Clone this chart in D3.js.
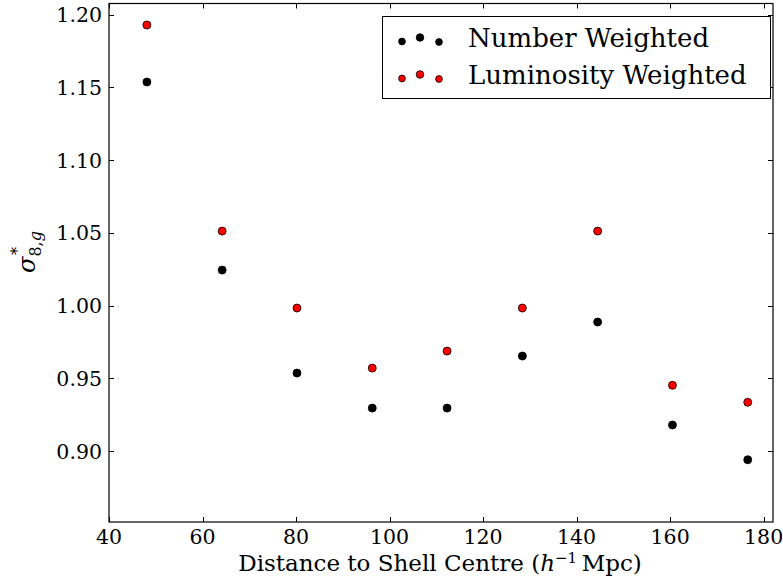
<!DOCTYPE html>
<html lang="en">
<head>
    <meta charset="UTF-8">
    <title>Sigma 8 vs distance</title>
    <script src="https://d3js.org/d3.v7.min.js"></script>
    <style>
        body { margin: 0; background: white; }
        text { font-family: "DejaVu Serif", serif; fill: #000; }
    </style>
</head>
<body>
    <div id="chart"></div>
    <script>
        // data
        const distances = [48.1, 64.2, 80.2, 96.3, 112.3, 128.4, 144.5, 160.5, 176.6];
        const numberWeighted = [1.1537, 1.0244, 0.9536, 0.9295, 0.9295, 0.9653, 0.9887, 0.9179, 0.8940];
        const luminosityWeighted = [1.1929, 1.0512, 0.9983, 0.9570, 0.9687, 0.9983, 1.0512, 0.9452, 0.9335];
        const xTicks = [40, 60, 80, 100, 120, 140, 160, 180];
        const yTicks = [0.90, 0.95, 1.00, 1.05, 1.10, 1.15, 1.20];
        const seriesNames = ["Number Weighted", "Luminosity Weighted"];

        const width = 783, height = 579;
        const mLeft = 109, mRight = 773, mTop = 3.5, mBottom = 522;

        const svg = d3.select("#chart").append("svg")
            .attr("width", width)
            .attr("height", height);

        const x = d3.scaleLinear().domain([40, 182]).range([mLeft, mRight]);
        const y = d3.scaleLinear().domain([0.8512, 1.2077]).range([mBottom, mTop]);

        // tick marks pointing inward on all four sides
        const tickLen = 5;
        const ticks = svg.append("g").attr("stroke", "#000").attr("stroke-width", 1);
        xTicks.forEach(t => {
            const px = Math.round(x(t)) + 0.5;
            ticks.append("line").attr("x1", px).attr("x2", px).attr("y1", mBottom).attr("y2", mBottom - tickLen);
            ticks.append("line").attr("x1", px).attr("x2", px).attr("y1", mTop).attr("y2", mTop + tickLen);
        });
        yTicks.forEach(t => {
            const py = Math.round(y(t)) + 0.5;
            ticks.append("line").attr("x1", mLeft).attr("x2", mLeft + tickLen).attr("y1", py).attr("y2", py);
            ticks.append("line").attr("x1", mRight).attr("x2", mRight - tickLen).attr("y1", py).attr("y2", py);
        });

        // frame
        svg.append("rect")
            .attr("x", mLeft).attr("y", mTop)
            .attr("width", mRight - mLeft).attr("height", mBottom - mTop)
            .attr("fill", "none").attr("stroke", "#000").attr("stroke-width", 1.2);

        // tick labels
        svg.append("g").selectAll("text").data(xTicks).join("text")
            .attr("x", d => x(d)).attr("y", mBottom + 21.5)
            .attr("text-anchor", "middle").attr("font-size", 20.5)
            .text(d => d);
        svg.append("g").selectAll("text").data(yTicks).join("text")
            .attr("x", mLeft - 7).attr("y", d => y(d) + 7.5)
            .attr("text-anchor", "end").attr("font-size", 20.5)
            .text(d => d.toFixed(2));

        // axis labels
        const xl = svg.append("text")
            .attr("x", 440).attr("y", 571)
            .attr("text-anchor", "middle").attr("font-size", 23);
        xl.append("tspan").text("Distance to Shell Centre (");
        xl.append("tspan").attr("font-style", "italic").text("h");
        xl.append("tspan").attr("dy", -8).attr("font-size", 15).text("\u22121");
        xl.append("tspan").attr("dy", 8).text("\u2009Mpc)");

        const yl = svg.append("text")
            .attr("transform", "translate(35,252) rotate(-90)")
            .attr("text-anchor", "middle").attr("font-size", 24);
        yl.append("tspan").attr("font-style", "italic").text("\u03c3");
        yl.append("tspan").attr("dy", 6).attr("font-size", 16).text("8,");
        yl.append("tspan").attr("font-size", 16).attr("font-style", "italic").text("g");
        yl.append("tspan").attr("dx", -24).attr("dy", -18).attr("font-size", 16).text("*");

        // points
        const pts = svg.append("g");
        pts.selectAll("circle.num").data(distances).join("circle")
            .attr("class", "num")
            .attr("cx", d => x(d)).attr("cy", (d, i) => y(numberWeighted[i]))
            .attr("r", 4).attr("fill", "#000").attr("stroke", "#000").attr("stroke-width", 0.8);
        pts.selectAll("circle.lum").data(distances).join("circle")
            .attr("class", "lum")
            .attr("cx", d => x(d)).attr("cy", (d, i) => y(luminosityWeighted[i]))
            .attr("r", 4).attr("fill", "#ff0000").attr("stroke", "#000").attr("stroke-width", 0.8);

        // legend
        const lg = svg.append("g");
        lg.append("rect")
            .attr("x", 382.5).attr("y", 16.5).attr("width", 388).attr("height", 82)
            .attr("fill", "white").attr("stroke", "#000").attr("stroke-width", 1);
        const markerDx = [402, 420, 439];
        const markerDy = [2, -2, 2.5];
        const rowY = [39.5, 76.5];
        const textY = [47, 84];
        const colors = ["#000", "#ff0000"];
        seriesNames.forEach((name, i) => {
            markerDx.forEach((mx, j) => {
                lg.append("circle")
                    .attr("cx", mx).attr("cy", rowY[i] + markerDy[j])
                    .attr("r", j === 1 ? 3.8 : 3.4)
                    .attr("fill", colors[i]).attr("stroke", "#000").attr("stroke-width", 0.8);
            });
            lg.append("text")
                .attr("x", 468).attr("y", textY[i])
                .attr("font-size", 26)
                .text(name);
        });
    </script>
</body>
</html>
